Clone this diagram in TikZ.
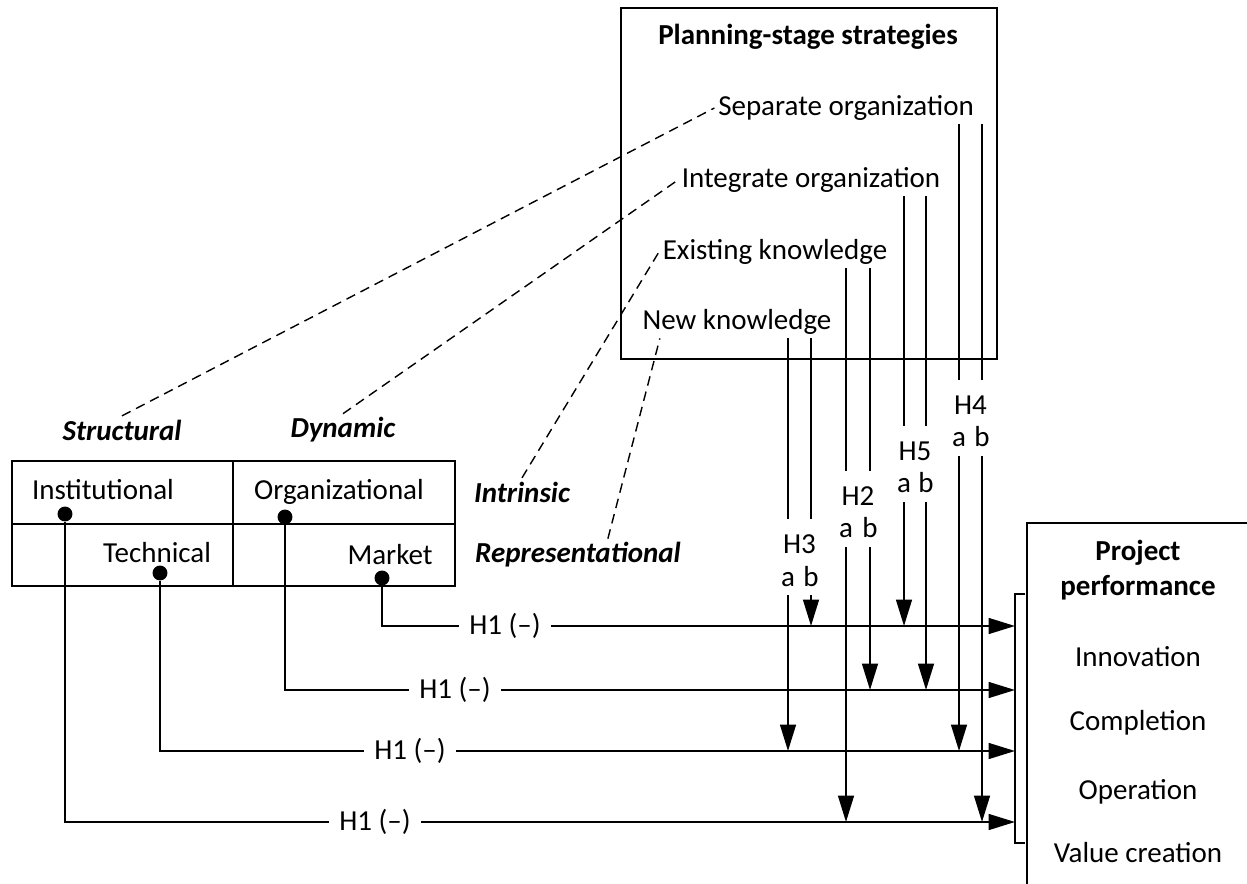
\documentclass[tikz,border=0pt]{standalone}
\usepackage{fontspec}
\setmainfont{Carlito}
\usetikzlibrary{arrows.meta}

\begin{document}
\begin{tikzpicture}[x=0.02cm,y=-0.02cm,
    txt/.style={font=\fontsize{16.5}{20}\selectfont, inner sep=2pt},
    bftxt/.style={txt, font=\fontsize{16.5}{20}\selectfont\bfseries},
    dimlab/.style={txt, font=\fontsize{16.5}{20}\selectfont\bfseries\itshape},
    box/.style={line width=0.7pt},
    dot/.style={circle, fill, inner sep=0pt, minimum size=8.5pt},
    harr/.style={line width=1.1pt, -{Triangle[length=15pt,width=9pt]}},
    dashlink/.style={line width=0.8pt, dash pattern=on 5.5pt off 3.5pt},
    hone/.style={txt, fill=white, inner xsep=6pt},
    hlab/.style={txt, fill=white, anchor=base, inner sep=0pt, text height=20pt, text depth=4pt},
    ablab/.style={txt, fill=white, anchor=base, inner xsep=1pt, inner ysep=0pt, text height=15pt, text depth=5pt}]
    \useasboundingbox (0,0) rectangle (1247,884);

    % planning-stage box
    \draw[box] (621,8) rectangle (997,359);
    \node[bftxt] (plan) at (808,37) {Planning-stage strategies};
    \node[txt] (sep) at (846,108) {Separate organization};
    \node[txt] (integ) at (811,180) {Integrate organization};
    \node[txt] (exk) at (775,252) {Existing knowledge};
    \node[txt] (newk) at (737,322) {New knowledge};

    % uncertainty boxes
    \draw[box] (12,461) rectangle (233,586);
    \draw[box] (12,524) -- (233,524);
    \draw[box] (233,461) rectangle (455,586);
    \draw[box] (233,524) -- (455,524);
    \node[dimlab] (struc) at (122,430) {Structural};
    \node[dimlab] (dyn) at (343,430) {Dynamic};
    \node[dimlab] (intr) at (522,492) {Intrinsic};
    \node[dimlab] (repr) at (578,555) {Representational};
    \node[txt] (inst) at (103,490) {Institutional};
    \node[txt] (tech) at (157,553) {Technical};
    \node[txt] (orga) at (339,492) {Organizational};
    \node[txt] (mark) at (390,555) {Market};
    \node[dot] (instdot) at (65,514) {};
    \node[dot] (techdot) at (160,573) {};
    \node[dot] (orgadot) at (285,517) {};
    \node[dot] (markdot) at (382,578) {};

    % performance box
    \draw[box] (1249,900) -- (1027,900) -- (1027,523) -- (1249,523);
    \node[bftxt, align=center] (perf) at (1138,570) {Project\\performance};
    \node[txt] (innov) at (1138,657) {Innovation};
    \node[txt] (compl) at (1138,723) {Completion};
    \node[txt] (oper) at (1138,792) {Operation};
    \node[txt] (value) at (1138,853) {Value creation};
    \draw[line width=0.8pt] (1025,594) -- (1015,594) -- (1015,843) -- (1025,843);
    \coordinate (in1) at (1015,626);
    \coordinate (in2) at (1015,690);
    \coordinate (in3) at (1015,751);
    \coordinate (in4) at (1015,822);

    % dashed links
    \draw[dashlink] (struc.north) -- (sep.west);
    \draw[dashlink] (dyn.north) -- (integ.west);
    \draw[dashlink] (intr.north) -- (exk.west);
    \draw[dashlink] ([xshift=17pt]repr.north) -- ([xshift=12pt]newk.south west);

    % H1 links
    \draw[harr] (markdot) |- (in1);
    \draw[harr] (orgadot) |- (in2);
    \draw[harr] (techdot) |- (in3);
    \draw[harr] (instdot) |- (in4);

    % moderating links
    \foreach \xa/\xb/\src/\ra/\rb in {788/811/newk/3/1, 846/870/exk/4/2, 904/926/integ/1/2, 959/982/sep/3/4}{
        \draw[harr] (\xa,0 |- \src.south) -- (\xa,0 |- in\ra);
        \draw[harr] (\xb,0 |- \src.south) -- (\xb,0 |- in\rb);
    }

    % labels
    \node[hone] (h1m) at (505,626) {H1 (--)};
    \node[hone] (h1o) at (455,690) {H1 (--)};
    \node[hone] (h1t) at (410,751) {H1 (--)};
    \node[hone] (h1i) at (375,822) {H1 (--)};
    \foreach \xa/\xb/\hy/\lab in {788/811/545/H3, 846/870/497/H2, 904/926/452/H5, 959/982/406/H4}{
        \node[hlab] (\lab) at ({(\xa+\xb)/2},{\hy+9}) {\lab};
        \node[ablab] (\lab a) at (\xa,{\hy+41}) {a};
        \node[ablab] (\lab b) at (\xb,{\hy+41}) {b};
    }
\end{tikzpicture}
\end{document}
